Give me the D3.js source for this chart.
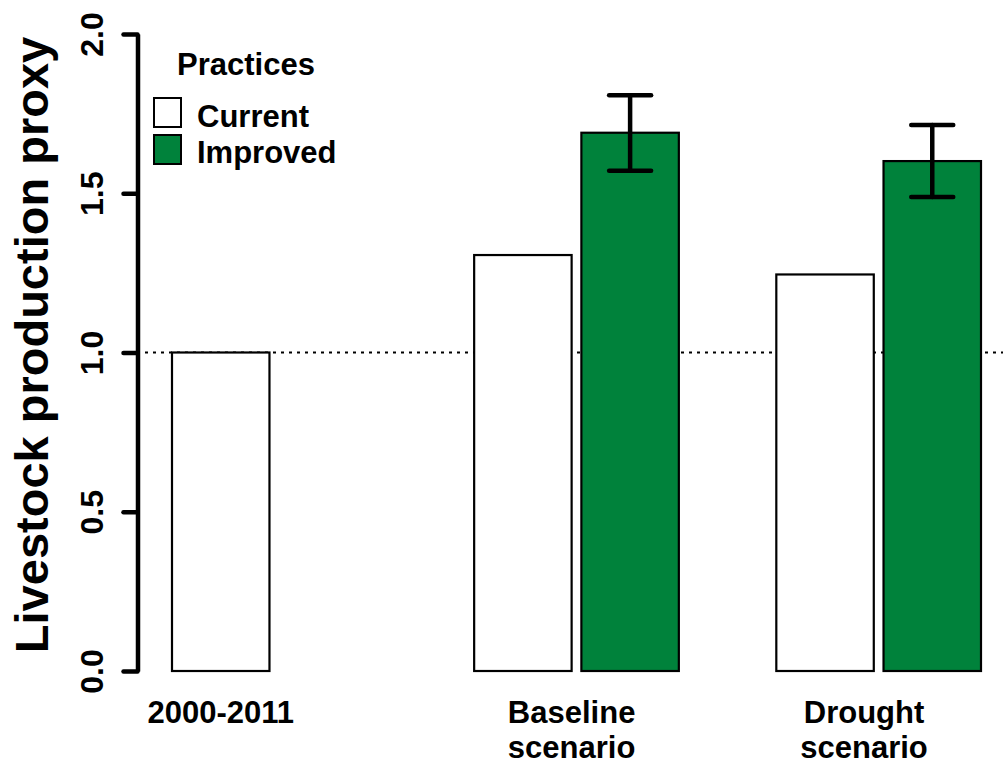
<!DOCTYPE html>
<html>
<head>
<meta charset="utf-8">
<script src="https://cdn.jsdelivr.net/npm/d3@7"></script>
<style>
  body { margin: 0; background: #fff; }
  text { font-family: "Liberation Sans", Arial, sans-serif; font-weight: bold; fill: #000; }
</style>
</head>
<body>
<svg id="chart"></svg>
<script>
let width = 1003
let height = 764

// data
let categories = [["2000-2011"], ["Baseline", "scenario"], ["Drought", "scenario"]]
let labelPos = [1.5, 5.1, 8.1]
let currentValues = [1.0, 1.306, 1.245]
let improvedValues = [null, 1.690, 1.601]
let improvedLow = [null, 1.571, 1.488]
let improvedHigh = [null, 1.808, 1.714]
let yTicks = [0, 0.5, 1.0, 1.5, 2.0]
let practices = ["Current", "Improved"]
let colors = ["#ffffff", "#00823b"]

let svg = d3.select("#chart").attr("width", width).attr("height", height)

// R barplot layout: bar width 1, space c(0.1, 1)
let xScale = d3.scaleLinear().domain([1, 9.3]).range([172, 981])
let yScale = d3.scaleLinear().domain([0, 2]).range([671, 34])
let barW = 1

let bars = []
categories.forEach(function (c, i) {
    let start = 1 + i * 3.1
    if (currentValues[i] != null) bars.push({ x0: start, v: currentValues[i], k: 0 })
    if (improvedValues[i] != null) bars.push({ x0: start + 1.1, v: improvedValues[i], k: 1, lo: improvedLow[i], hi: improvedHigh[i] })
})

// reference line at 1.0
svg.append("line")
    .attr("x1", 137).attr("x2", width)
    .attr("y1", yScale(1)).attr("y2", yScale(1))
    .attr("stroke", "#000").attr("stroke-width", 2)
    .attr("stroke-dasharray", "3,5")

svg.selectAll("rect.bar").data(bars).enter().append("rect")
    .attr("class", "bar")
    .attr("x", d => xScale(d.x0))
    .attr("width", d => xScale(d.x0 + barW) - xScale(d.x0))
    .attr("y", d => yScale(d.v))
    .attr("height", d => yScale(0) - yScale(d.v))
    .attr("fill", d => colors[d.k])
    .attr("stroke", "#000")
    .attr("stroke-width", 2.2)

// error bars
let err = svg.append("g").attr("stroke", "#000").attr("stroke-width", 4.5).attr("stroke-linecap", "round")
bars.filter(d => d.lo != null).forEach(function (d) {
    let cx = xScale(d.x0 + barW / 2)
    err.append("line").attr("x1", cx).attr("x2", cx).attr("y1", yScale(d.lo)).attr("y2", yScale(d.hi))
    err.append("line").attr("x1", cx - 21).attr("x2", cx + 21).attr("y1", yScale(d.lo)).attr("y2", yScale(d.lo))
    err.append("line").attr("x1", cx - 21).attr("x2", cx + 21).attr("y1", yScale(d.hi)).attr("y2", yScale(d.hi))
})

// y axis
let yAxis = svg.append("g")
    .attr("transform", "translate(137.5,0)")
    .call(d3.axisLeft(yScale).tickValues(yTicks).tickSize(14).tickSizeOuter(0).tickFormat(d3.format(".1f")))
yAxis.select(".domain").attr("stroke-width", 4.5).attr("stroke", "#000")
yAxis.selectAll(".tick line").attr("stroke-width", 4.5).attr("stroke-linecap", "round").attr("stroke", "#000")
yAxis.selectAll(".tick text")
    .attr("transform", "rotate(-90)")
    .attr("x", 0).attr("y", -34.5).attr("dy", 0)
    .attr("text-anchor", "middle")
    .style("font-size", "32px")

// y title
svg.append("text")
    .attr("transform", "translate(48," + 345 + ") rotate(-90)")
    .attr("text-anchor", "middle")
    .style("font-size", "47px")
    .text("Livestock production proxy")

// x labels
categories.forEach(function (lines, i) {
    let t = svg.append("text")
        .attr("x", xScale(labelPos[i]))
        .attr("y", 723)
        .attr("text-anchor", "middle")
        .style("font-size", "31px")
    lines.forEach(function (l, j) {
        t.append("tspan").attr("x", xScale(labelPos[i])).attr("dy", j == 0 ? 0 : 35).text(l)
    })
})

// legend
let legend = svg.append("g")
legend.append("text").attr("x", 177).attr("y", 75).style("font-size", "31px").text("Practices")
practices.forEach(function (p, i) {
    legend.append("rect")
        .attr("x", 154).attr("y", 98 + i * 37)
        .attr("width", 27).attr("height", 29)
        .attr("fill", colors[i]).attr("stroke", "#000").attr("stroke-width", 2)
    legend.append("text").attr("x", 197).attr("y", 127 + i * 36).style("font-size", "31px").text(p)
})
</script>
</body>
</html>
